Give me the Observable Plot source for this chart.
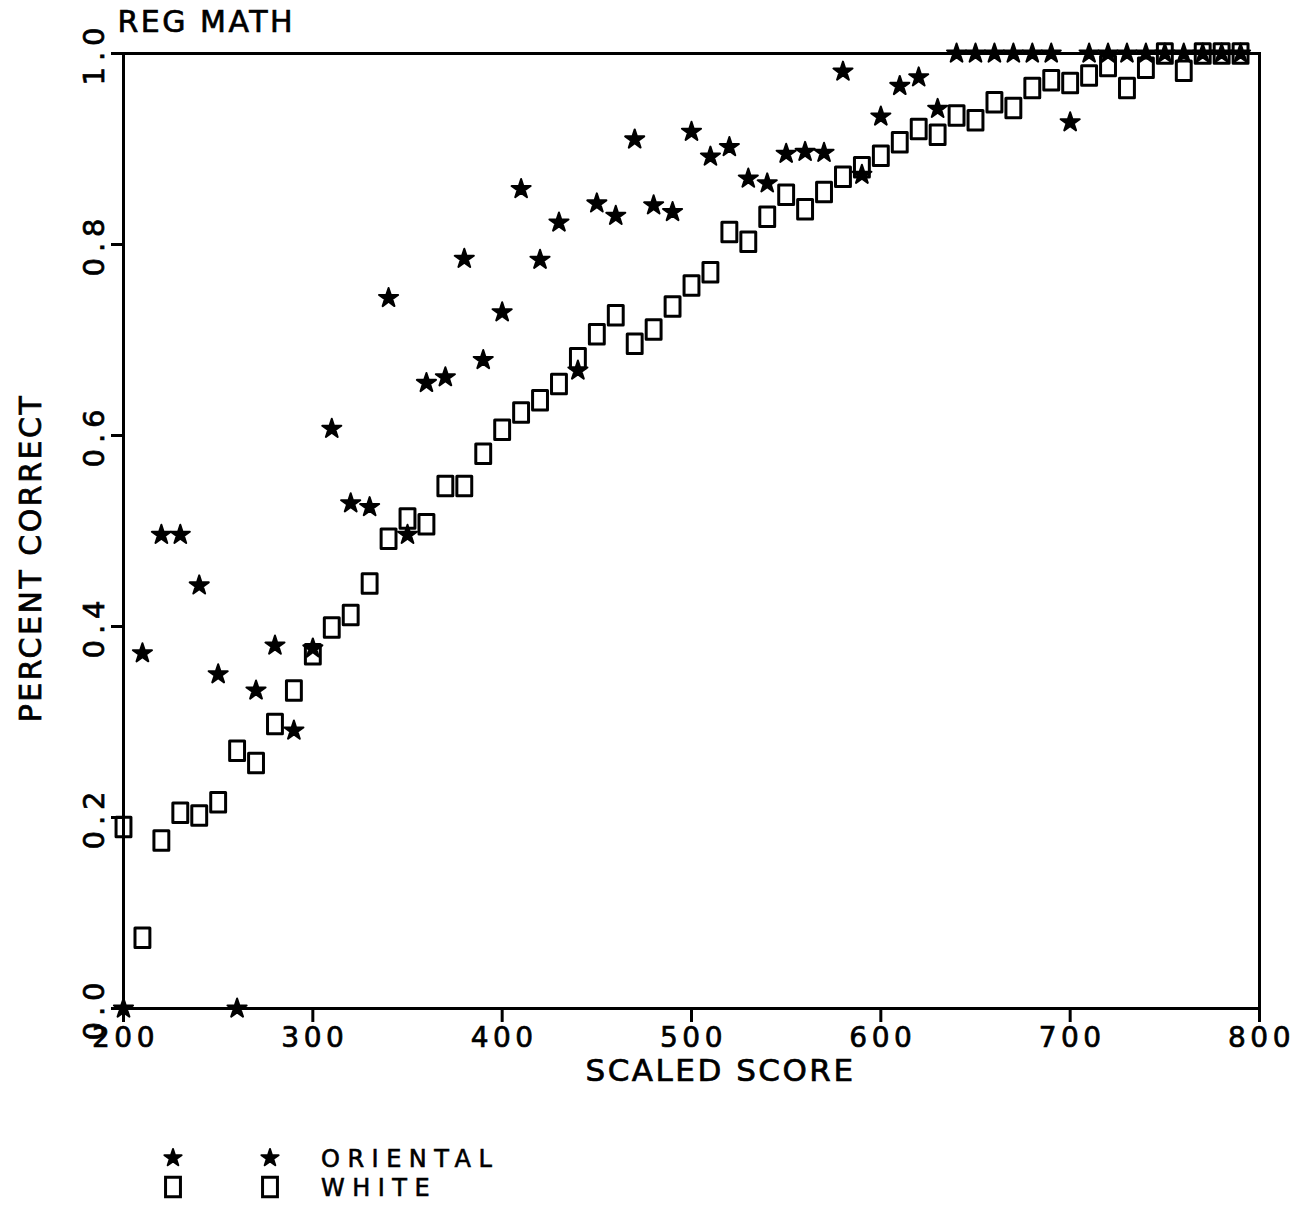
<!DOCTYPE html>
<html>
<head>
<meta charset="utf-8">
<script src="https://cdn.jsdelivr.net/npm/d3@7"></script>
<script src="https://cdn.jsdelivr.net/npm/@observablehq/plot@0.6"></script>
<style>
  html, body { margin: 0; padding: 0; background: #fff; }
  #wrap { position: relative; width: 1312px; height: 1205px; overflow: hidden; font-family: "DejaVu Sans", sans-serif; color: #000; }
  #legend { position: absolute; left: 0; top: 1140px; width: 600px; height: 64px; }
  #legend .lab { position: absolute; left: 321px; font-size: 24px; letter-spacing: 7.5px; line-height: 22px; -webkit-text-stroke: 0.6px #000; }
</style>
</head>
<body>
<div id="wrap"><div id="chart"></div><div id="legend"></div></div>
<script>
// ---- data ----
const scores = [200,210,220,230,240,250,260,270,280,290,300,310,320,330,340,350,360,370,380,390,
                400,410,420,430,440,450,460,470,480,490,500,510,520,530,540,550,560,570,580,590,
                600,610,620,630,640,650,660,670,680,690,700,710,720,730,740,750,760,770,780,790];
const oriental = [0.000,0.372,0.496,0.496,0.443,0.350,0.000,0.333,0.380,0.291,
                  0.377,0.607,0.529,0.525,0.744,0.496,0.655,0.661,0.785,0.679,
                  0.729,0.858,0.784,0.823,0.668,0.843,0.830,0.910,0.841,0.834,
                  0.918,0.892,0.902,0.869,0.864,0.895,0.897,0.896,0.981,0.873,
                  0.934,0.966,0.975,0.942,1.000,1.000,1.000,1.000,1.000,1.000,
                  0.928,1.000,1.000,1.000,1.000,1.000,1.000,1.000,1.000,1.000];
const white = [0.190,0.074,0.176,0.205,0.202,0.216,0.270,0.257,0.298,0.333,
               0.371,0.399,0.412,0.445,0.492,0.513,0.507,0.547,0.547,0.581,
               0.606,0.624,0.637,0.654,0.681,0.706,0.726,0.696,0.711,0.735,
               0.757,0.771,0.813,0.803,0.829,0.852,0.837,0.855,0.871,0.881,
               0.893,0.907,0.921,0.915,0.935,0.930,0.949,0.943,0.964,0.972,
               0.969,0.977,0.987,0.964,0.985,1.000,0.982,1.000,1.000,1.000];
const seriesNames = ["ORIENTAL", "WHITE"];
const xTicks = [200,300,400,500,600,700,800];
const yTicks = [0,0.2,0.4,0.6,0.8,1.0];
const yTickLabels = ["0.0","0.2","0.4","0.6","0.8","1.0"];
const titleText = "REG MATH";
const xLabel = "SCALED SCORE";
const yLabel = "PERCENT CORRECT";

const orientalRows = scores.map((s, i) => ({score: s, pct: oriental[i], group: seriesNames[0]}));
const whiteRows = scores.map((s, i) => ({score: s, pct: white[i], group: seriesNames[1]}));

// upright rectangle marker like the plotter's square
const rectSymbol = {
  draw(ctx, size) {
    const s = Math.sqrt(size);
    const w = s * 0.84, h = s * 1.1;
    ctx.moveTo(-w/2, -h/2); ctx.lineTo(w/2, -h/2); ctx.lineTo(w/2, h/2); ctx.lineTo(-w/2, h/2); ctx.closePath();
  }
};

const plot = Plot.plot({
  width: 1312, height: 1100,
  marginLeft: 123, marginRight: 53, marginTop: 53, marginBottom: 92,
  x: {domain: [200, 800]},
  y: {domain: [0, 1]},
  style: {fontFamily: "'DejaVu Sans', sans-serif", fontSize: "29px", color: "#000", background: "#fff", overflow: "visible"},
  marks: [
    Plot.frame({stroke: "#000", strokeWidth: 3}),
    Plot.axisX({ticks: xTicks, tickSize: 14, tickPadding: 5, tickFormat: d => String(d), strokeWidth: 3, label: null, fontSize: 28}),
    Plot.axisY({ticks: yTicks, tickSize: 12, tickPadding: 8, tickRotate: -90, tickFormat: d => yTickLabels[yTicks.indexOf(d)], strokeWidth: 3, label: null, fontSize: 29}),
    Plot.dot(whiteRows, {x: "score", y: "pct", symbol: rectSymbol, r: 10, stroke: "#000", strokeWidth: 3, fill: "none", strokeLinejoin: "round"}),
    Plot.dot(orientalRows, {x: "score", y: "pct", symbol: "star", r: 6, fill: "#000", stroke: "#000", strokeWidth: 2, strokeLinejoin: "round"}),
    Plot.text([xLabel], {frameAnchor: "bottom", textAnchor: "middle", lineAnchor: "middle", dx: 29, dy: 63, fontSize: 31}),
    Plot.text([yLabel], {frameAnchor: "left", textAnchor: "middle", lineAnchor: "middle", rotate: -90, dx: -92, dy: 27, fontSize: 30}),
    Plot.text([titleText], {frameAnchor: "top-left", textAnchor: "start", lineAnchor: "middle", dx: -6, dy: -31, fontSize: 30})
  ]
});
document.getElementById("chart").appendChild(plot);

// letter spacing and a heavier stroke to mimic the plotter lettering
const svg = d3.select(plot);
svg.selectAll("g[aria-label='x-axis tick label'] text").style("letter-spacing", "4.5px").attr("dx", 2);
svg.selectAll("g[aria-label='y-axis tick label'] text").style("letter-spacing", "6px");
svg.selectAll("g[aria-label='text'] text").style("letter-spacing", "2.5px");
svg.selectAll("text").attr("stroke", "#000").attr("stroke-width", 0.7);

// legend
const legend = d3.select("#legend");
const ls = legend.append("svg").attr("width", 300).attr("height", 64).style("position", "absolute").style("left", 0).style("top", 0);
const starPath = d3.symbol(d3.symbolStar, Math.PI * 5.4 * 5.4)();
const rectPath = d3.symbol(rectSymbol, Math.PI * 10 * 10)();
[173, 270].forEach(cx => {
  ls.append("path").attr("d", starPath).attr("transform", `translate(${cx},18)`).attr("fill", "#000").attr("stroke", "#000").attr("stroke-width", 2).attr("stroke-linejoin", "round");
  ls.append("path").attr("d", rectPath).attr("transform", `translate(${cx},47)`).attr("fill", "none").attr("stroke", "#000").attr("stroke-width", 3);
});
legend.append("div").attr("class", "lab").style("top", "8px").text(seriesNames[0]);
legend.append("div").attr("class", "lab").style("top", "37px").text(seriesNames[1]);
</script>
</body>
</html>
